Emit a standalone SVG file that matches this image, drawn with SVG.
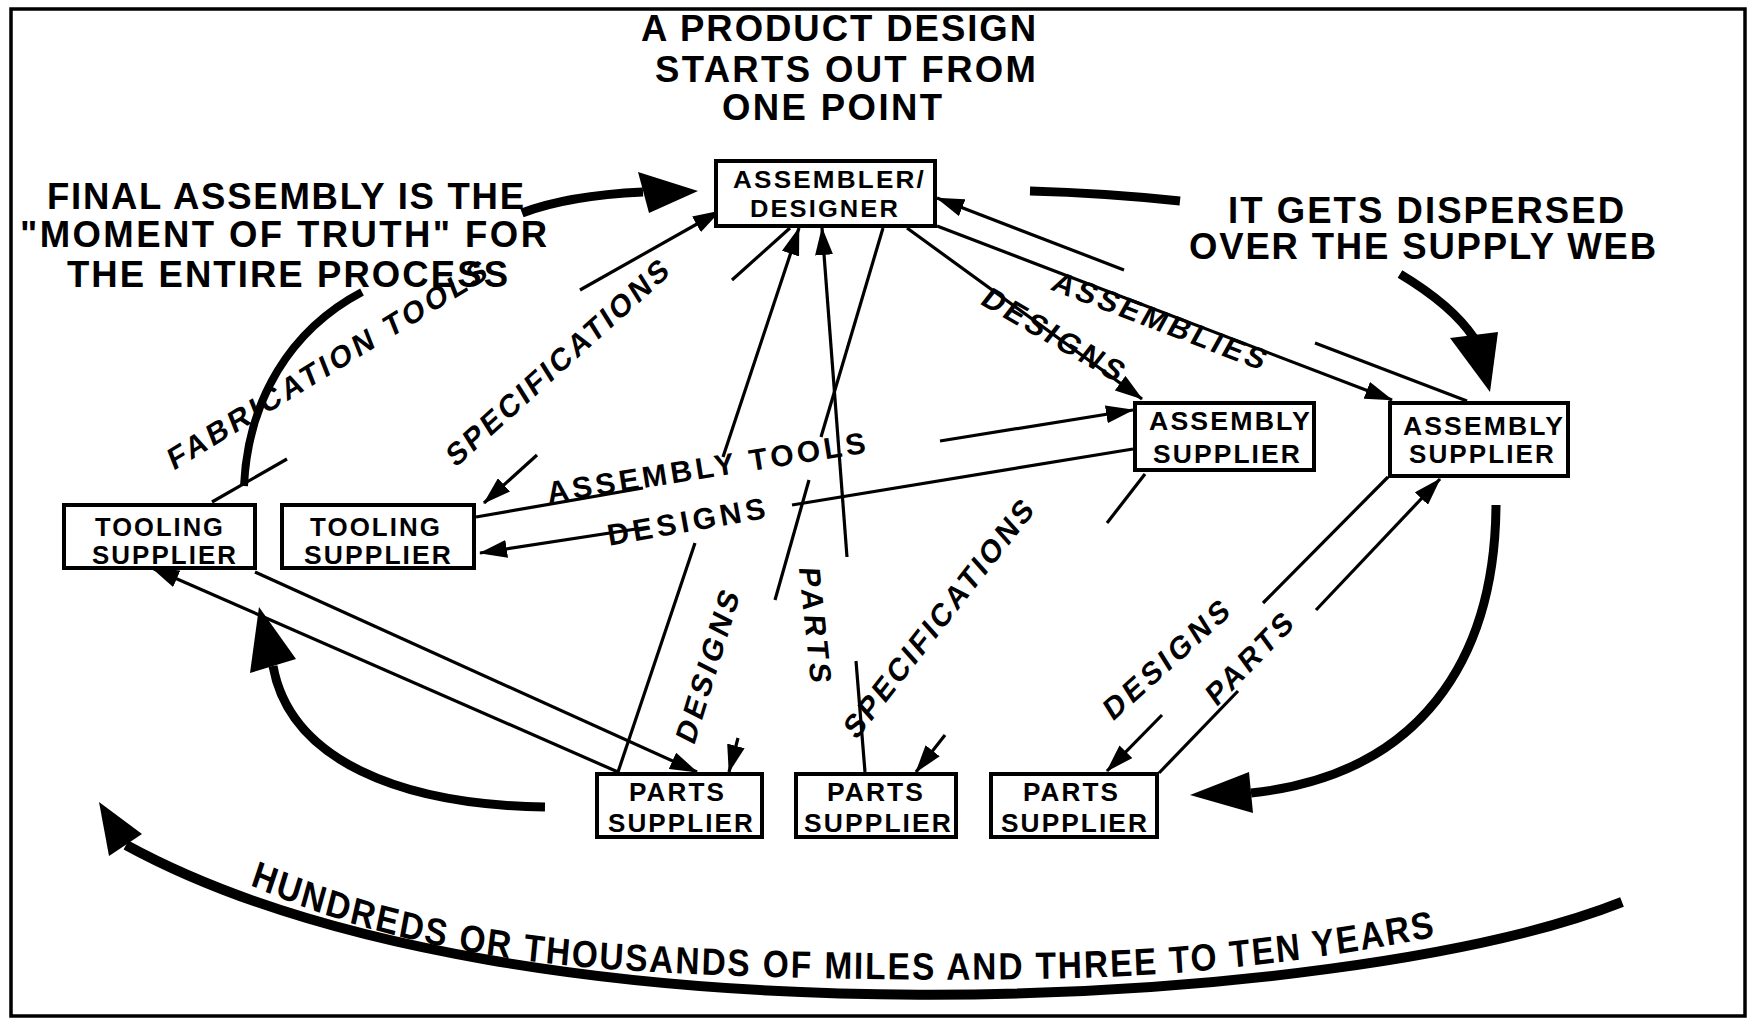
<svg xmlns="http://www.w3.org/2000/svg" width="1756" height="1019" viewBox="0 0 1756 1019">
<style>
.box{fill:#fff;stroke:#000;stroke-width:4}
.nt{font-family:"Liberation Sans",Arial,sans-serif;font-weight:bold;font-size:25px;fill:#000;letter-spacing:2px}
.big{font-family:"Liberation Sans",Arial,sans-serif;font-weight:bold;font-size:36.5px;fill:#000;letter-spacing:2px}
.lbl{font-family:"Liberation Sans",Arial,sans-serif;font-weight:bold;font-size:30px;fill:#000}
.ln{stroke:#000;stroke-width:3.2;fill:none}
.th{stroke:#000;stroke-width:9;fill:none}
.hd{fill:#000;stroke:none}
</style>
<defs>
<marker id="ah" markerUnits="userSpaceOnUse" markerWidth="28" markerHeight="18" viewBox="0 0 28 18" refX="27" refY="9" orient="auto"><path d="M0,0 L28,9 L0,18 z" fill="#000"/></marker>
<path id="tp" d="M284.1,885 C397.7,930 534.1,960 704.5,970 C875,980 1193.2,985 1363.6,971 C1490,960 1600,945 1700,922" fill="none"/>
</defs>
<rect x="0" y="0" width="1756" height="1019" fill="#fff"/>
<rect x="11" y="9" width="1734" height="1007" fill="none" stroke="#000" stroke-width="3.5"/>

<g id="texts">
<text class="big" x="641" y="41" textLength="397" lengthAdjust="spacing">A PRODUCT DESIGN</text>
<text class="big" x="655" y="82" textLength="383" lengthAdjust="spacing">STARTS OUT FROM</text>
<text class="big" x="722" y="120" textLength="222" lengthAdjust="spacing">ONE POINT</text>
<text class="big" x="47" y="209" textLength="479" lengthAdjust="spacing">FINAL ASSEMBLY IS THE</text>
<text class="big" x="20" y="247" textLength="529" lengthAdjust="spacing">"MOMENT OF TRUTH" FOR</text>
<text class="big" x="67" y="287" textLength="443" lengthAdjust="spacing">THE ENTIRE PROCESS</text>
<text class="big" x="1228" y="223" textLength="398" lengthAdjust="spacing">IT GETS DISPERSED</text>
<text class="big" x="1189" y="259" textLength="469" lengthAdjust="spacing">OVER THE SUPPLY WEB</text>
<text class="big" style="font-size:38px;letter-spacing:2.2px" transform="scale(0.88,1)"><textPath href="#tp">HUNDREDS OR THOUSANDS OF MILES AND THREE TO TEN YEARS</textPath></text>
</g>

<g id="connectors">
<g id="thick">
<path class="th" style="stroke-width:8" d="M244,486 C248,400 290,330 362,292"/>
<path class="th" d="M522,213 C556,200 600,194 643,192"/>
<polygon class="hd" points="638,172 698,191 649,213"/>
<path class="th" d="M1030,191 Q1105,193 1180,201"/>
<path class="th" d="M1400,274 C1430,292 1458,314 1474,338"/>
<polygon class="hd" points="1450,338 1498,332 1490,392"/>
<path class="th" d="M1496,505 C1495,660 1420,775 1251,793"/>
<polygon class="hd" points="1249,772 1253,813 1190,795"/>
<path class="th" d="M545,807 C400,805 290,760 273,666"/>
<polygon class="hd" points="250,673 296,659 259,607"/>
<path class="th" style="stroke-width:10" d="M1622,902 C1350,1010 520,1060 126,845"/>
<polygon class="hd" points="109,856 142,834 99,802"/>
</g>
<g id="c1"><line class="ln" x1="212" y1="502" x2="287" y2="459"/><line class="ln" x1="580" y1="290" x2="720" y2="211" marker-end="url(#ah)"/></g>
<g id="c2"><line class="ln" x1="790" y1="228" x2="732" y2="280"/><line class="ln" x1="537" y1="455" x2="484" y2="503" marker-end="url(#ah)"/></g>
<g id="c3"><line class="ln" x1="476" y1="517" x2="643" y2="488"/><line class="ln" x1="940" y1="441" x2="1133" y2="410" marker-end="url(#ah)"/></g>
<g id="c4"><line class="ln" x1="1133" y1="449" x2="792" y2="505"/><line class="ln" x1="649" y1="527" x2="480" y2="553" marker-end="url(#ah)"/></g>
<g id="c5"><line class="ln" x1="618" y1="772" x2="695" y2="543"/><line class="ln" x1="723" y1="457" x2="799" y2="228" marker-end="url(#ah)"/></g>
<g id="c6"><line class="ln" x1="865" y1="772" x2="856" y2="661"/><line class="ln" x1="847" y1="557" x2="822" y2="228" marker-end="url(#ah)"/></g>
<g id="c7"><line class="ln" x1="883" y1="228" x2="821" y2="437"/><line class="ln" x1="809" y1="480" x2="775" y2="600"/><line class="ln" x1="738" y1="738" x2="729" y2="772" marker-end="url(#ah)"/></g>
<g id="c8"><line class="ln" x1="907" y1="228" x2="1142" y2="399" marker-end="url(#ah)"/></g>
<g id="c9"><line class="ln" x1="937" y1="226" x2="1392" y2="400" marker-end="url(#ah)"/></g>
<g id="c10"><line class="ln" x1="1467" y1="401" x2="1315" y2="343"/><line class="ln" x1="1124" y1="270" x2="937" y2="198" marker-end="url(#ah)"/></g>
<g id="c11"><line class="ln" x1="1145" y1="474" x2="1107" y2="523"/><line class="ln" x1="945" y1="735" x2="916" y2="772" marker-end="url(#ah)"/></g>
<g id="c12"><line class="ln" x1="1388" y1="477" x2="1263" y2="603"/><line class="ln" x1="1162" y1="715" x2="1107" y2="771" marker-end="url(#ah)"/></g>
<g id="c13"><line class="ln" x1="1159" y1="773" x2="1238" y2="691"/><line class="ln" x1="1316" y1="610" x2="1440" y2="479" marker-end="url(#ah)"/></g>
<g id="c14"><line class="ln" x1="255" y1="572" x2="697" y2="772" marker-end="url(#ah)"/></g>
<g id="c15"><line class="ln" x1="618" y1="772" x2="152" y2="568" marker-end="url(#ah)"/></g>
</g>

<g id="labels" class="lbl" text-anchor="middle">
<text transform="translate(327,364) rotate(-31.5) skewX(-10)" x="0" y="11" textLength="370" lengthAdjust="spacing">FABRICATION TOOLS</text>
<text transform="translate(557,362) rotate(-42) skewX(-10)" x="0" y="11" textLength="290" lengthAdjust="spacing">SPECIFICATIONS</text>
<text transform="translate(706,467) rotate(-9)" x="0" y="11" textLength="322" lengthAdjust="spacing">ASSEMBLY TOOLS</text>
<text transform="translate(686,521) rotate(-10)" x="0" y="11" textLength="160" lengthAdjust="spacing">DESIGNS</text>
<text transform="translate(1054,334) rotate(30) skewX(-8)" x="0" y="11" textLength="158" lengthAdjust="spacing">DESIGNS</text>
<text transform="translate(1160,320) rotate(21) skewX(-8)" x="0" y="11" textLength="226" lengthAdjust="spacing">ASSEMBLIES</text>
<text transform="translate(707,666) rotate(-73) skewX(-10)" x="0" y="11" textLength="157" lengthAdjust="spacing">DESIGNS</text>
<text transform="translate(816,625) rotate(84) skewX(-8)" x="0" y="11" textLength="116" lengthAdjust="spacing">PARTS</text>
<text transform="translate(938,618) rotate(-52) skewX(-10)" x="0" y="11" textLength="291" lengthAdjust="spacing">SPECIFICATIONS</text>
<text transform="translate(1166,659) rotate(-42) skewX(-10)" x="0" y="11" textLength="160" lengthAdjust="spacing">DESIGNS</text>
<text transform="translate(1249,658) rotate(-46) skewX(-10)" x="0" y="11" textLength="113" lengthAdjust="spacing">PARTS</text>
</g>

<g id="assembler">
<rect class="box" x="716" y="161" width="219" height="65"/>
<text class="nt" style="font-size:24px" x="733" y="188" textLength="193" lengthAdjust="spacingAndGlyphs">ASSEMBLER/</text>
<text class="nt" style="font-size:24px" x="750" y="217" textLength="150" lengthAdjust="spacingAndGlyphs">DESIGNER</text>
</g>
<g id="tooling1">
<rect class="box" x="64" y="505" width="191" height="63"/>
<text class="nt" x="95" y="536" textLength="130" lengthAdjust="spacingAndGlyphs">TOOLING</text>
<text class="nt" x="92" y="564" textLength="146" lengthAdjust="spacingAndGlyphs">SUPPLIER</text>
</g>
<g id="tooling2">
<rect class="box" x="282" y="505" width="192" height="63"/>
<text class="nt" x="310" y="536" textLength="132" lengthAdjust="spacingAndGlyphs">TOOLING</text>
<text class="nt" x="304" y="564" textLength="149" lengthAdjust="spacingAndGlyphs">SUPPLIER</text>
</g>
<g id="assembly1">
<rect class="box" x="1135" y="403" width="179" height="67"/>
<text class="nt" x="1149" y="430" textLength="163" lengthAdjust="spacingAndGlyphs">ASSEMBLY</text>
<text class="nt" x="1153" y="463" textLength="149" lengthAdjust="spacingAndGlyphs">SUPPLIER</text>
</g>
<g id="assembly2">
<rect class="box" x="1390" y="403" width="178" height="73"/>
<text class="nt" x="1403" y="435" textLength="162" lengthAdjust="spacingAndGlyphs">ASSEMBLY</text>
<text class="nt" x="1409" y="463" textLength="147" lengthAdjust="spacingAndGlyphs">SUPPLIER</text>
</g>
<g id="parts1">
<rect class="box" x="597" y="774" width="165" height="63"/>
<text class="nt" x="629" y="801" textLength="97" lengthAdjust="spacingAndGlyphs">PARTS</text>
<text class="nt" x="608" y="832" textLength="147" lengthAdjust="spacingAndGlyphs">SUPPLIER</text>
</g>
<g id="parts2">
<rect class="box" x="796" y="774" width="160" height="63"/>
<text class="nt" x="827" y="801" textLength="98" lengthAdjust="spacingAndGlyphs">PARTS</text>
<text class="nt" x="804" y="832" textLength="149" lengthAdjust="spacingAndGlyphs">SUPPLIER</text>
</g>
<g id="parts3">
<rect class="box" x="991" y="774" width="166" height="63"/>
<text class="nt" x="1023" y="801" textLength="97" lengthAdjust="spacingAndGlyphs">PARTS</text>
<text class="nt" x="1001" y="832" textLength="148" lengthAdjust="spacingAndGlyphs">SUPPLIER</text>
</g>
</svg>
